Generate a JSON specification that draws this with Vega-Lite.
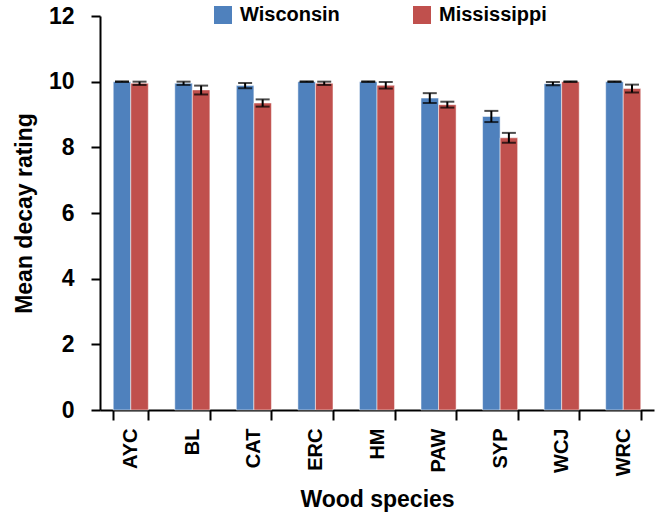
{
  "$schema": "https://vega.github.io/schema/vega-lite/v6.json",
  "width": 554,
  "height": 394,
  "autosize": {"type": "none"},
  "padding": {"left": 100, "top": 16, "right": 2, "bottom": 109},
  "config": {
    "font": "Liberation Sans",
    "view": {"stroke": null},
    "axis": {"grid": false, "domainColor": "black", "tickColor": "black", "labelColor": "black", "titleColor": "black", "labelFont": "Liberation Sans", "titleFont": "Liberation Sans", "labelFontWeight": "bold", "titleFontWeight": "bold"}
  },
  "data": {
    "values": [
      {"species": "AYC", "state": "Wisconsin", "mean": 10.0, "lo": 9.99, "hi": 10.01},
      {"species": "AYC", "state": "Mississippi", "mean": 9.95, "lo": 9.9, "hi": 10.0},
      {"species": "BL", "state": "Wisconsin", "mean": 9.95, "lo": 9.9, "hi": 10.0},
      {"species": "BL", "state": "Mississippi", "mean": 9.75, "lo": 9.61, "hi": 9.88},
      {"species": "CAT", "state": "Wisconsin", "mean": 9.88, "lo": 9.8, "hi": 9.96},
      {"species": "CAT", "state": "Mississippi", "mean": 9.35, "lo": 9.24, "hi": 9.46},
      {"species": "ERC", "state": "Wisconsin", "mean": 10.0, "lo": 9.99, "hi": 10.01},
      {"species": "ERC", "state": "Mississippi", "mean": 9.95, "lo": 9.9, "hi": 10.0},
      {"species": "HM", "state": "Wisconsin", "mean": 10.0, "lo": 9.99, "hi": 10.01},
      {"species": "HM", "state": "Mississippi", "mean": 9.89, "lo": 9.79, "hi": 9.99},
      {"species": "PAW", "state": "Wisconsin", "mean": 9.5, "lo": 9.35, "hi": 9.65},
      {"species": "PAW", "state": "Mississippi", "mean": 9.3, "lo": 9.21, "hi": 9.39},
      {"species": "SYP", "state": "Wisconsin", "mean": 8.94, "lo": 8.77, "hi": 9.11},
      {"species": "SYP", "state": "Mississippi", "mean": 8.29, "lo": 8.14, "hi": 8.44},
      {"species": "WCJ", "state": "Wisconsin", "mean": 9.94, "lo": 9.89, "hi": 9.99},
      {"species": "WCJ", "state": "Mississippi", "mean": 10.0, "lo": 9.99, "hi": 10.01},
      {"species": "WRC", "state": "Wisconsin", "mean": 10.0, "lo": 9.99, "hi": 10.01},
      {"species": "WRC", "state": "Mississippi", "mean": 9.79, "lo": 9.67, "hi": 9.91}
    ]
  },
  "encoding": {
    "x": {
      "field": "species", "type": "nominal", "sort": null,
      "scale": {"paddingInner": 0.43, "paddingOuter": 0.215},
      "axis": {"title": "Wood species", "labelAngle": 270, "labelAlign": "right", "labelBaseline": "middle", "labelFontSize": 20, "labelPadding": 8, "tickBand": "extent", "tickSize": 10, "tickWidth": 2, "domainWidth": 2, "titleFontSize": 23, "titlePadding": 13}
    },
    "xOffset": {"field": "state", "type": "nominal", "sort": ["Wisconsin", "Mississippi"], "scale": {"paddingInner": 0}}
  },
  "layer": [
    {
      "mark": {"type": "bar", "stroke": "white", "strokeOpacity": 0.5, "strokeWidth": 1},
      "encoding": {
        "y": {
          "field": "mean", "type": "quantitative",
          "scale": {"domain": [0, 12], "nice": false},
          "axis": {"title": "Mean decay rating", "values": [0, 2, 4, 6, 8, 10, 12], "labelFontSize": 23, "labelPadding": 17, "tickSize": 9, "tickWidth": 2, "domainWidth": 2, "titleFontSize": 23, "titlePadding": 12}
        },
        "color": {
          "field": "state", "type": "nominal", "sort": ["Wisconsin", "Mississippi"],
          "scale": {"domain": ["Wisconsin", "Mississippi"], "range": ["#4F81BD", "#C0504D"]},
          "legend": {"title": null, "orient": "none", "legendX": 113, "legendY": -11, "direction": "horizontal", "symbolType": "square", "symbolSize": 324, "symbolStrokeWidth": 0, "labelFontSize": 20, "labelFontWeight": "bold", "labelColor": "black", "labelFont": "Liberation Sans", "columnPadding": 72, "labelOffset": 7}
        }
      }
    },
    {
      "mark": {"type": "rule", "color": "black", "strokeWidth": 2},
      "encoding": {
        "y": {"field": "lo", "type": "quantitative"},
        "y2": {"field": "hi"}
      }
    },
    {
      "mark": {"type": "tick", "color": "black", "thickness": 2, "size": 14},
      "encoding": {"y": {"field": "lo", "type": "quantitative"}}
    },
    {
      "mark": {"type": "tick", "color": "black", "thickness": 2, "size": 14},
      "encoding": {"y": {"field": "hi", "type": "quantitative"}}
    }
  ]
}
